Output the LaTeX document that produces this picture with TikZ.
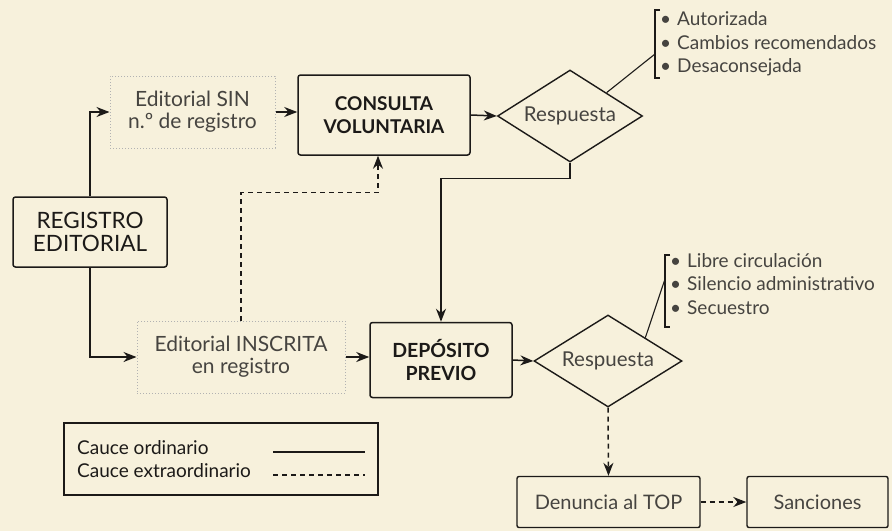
\documentclass[tikz,border=0pt]{standalone}
\usepackage{fontspec}
\setmainfont{Lato}
\usetikzlibrary{shapes.geometric,arrows.meta}
\definecolor{paper}{RGB}{247,241,220}
\definecolor{ink}{RGB}{28,26,24}
\definecolor{soft}{RGB}{70,68,64}
\tikzset{
  mainbox/.style={draw=ink, line width=1.5pt, rounded corners=2.5pt, align=center, text=ink, inner sep=0pt,
    font=\fontsize{22.5}{23.5}\selectfont},
  dotbox/.style={draw=gray!60, dotted, line width=1pt, align=center, text=soft, inner sep=0pt,
    font=\fontsize{21}{22}\selectfont},
  smallbox/.style={draw=ink, line width=1.4pt, rounded corners=2pt, align=center, text=soft, inner sep=0pt,
    font=\fontsize{20}{22}\selectfont},
  decision/.style={diamond, draw=ink, line width=1.4pt, aspect=1.6, inner sep=0pt, text=soft,
    font=\fontsize{20.5}{22}\selectfont},
  conn/.style={line width=1.5pt, draw=ink},
  arr/.style={conn, -{Stealth[length=13pt,width=10pt]}},
  dasharr/.style={arr, dash pattern=on 5pt off 4pt},
  itemlist/.style={anchor=west, align=left, text=soft, inner sep=0pt,
    font=\fontsize{19}{23.5}\selectfont},
  legendtext/.style={anchor=west, text=ink, inner sep=0pt, font=\fontsize{19}{23}\selectfont},
}
\begin{document}
\begin{tikzpicture}[x=1pt,y=-1pt]
\useasboundingbox[fill=paper] (0,0) rectangle (892,531);

% nodes
\node[mainbox, minimum width=154pt, minimum height=70pt] (registro) at (90,232) {REGISTRO\\EDITORIAL};
\node[dotbox, minimum width=165pt, minimum height=72pt] (sin) at (192.5,112) {Editorial SIN\\n.º de registro};
\node[mainbox, font=\bfseries\fontsize{19}{23}\selectfont, minimum width=172pt, minimum height=80pt] (consulta) at (384,115) {CONSULTA\\VOLUNTARIA};
\node[decision, minimum width=145pt, minimum height=92pt] (d1) at (570,116) {Respuesta};
\node[dotbox, minimum width=208pt, minimum height=72pt] (inscrita) at (241,357) {Editorial INSCRITA\\en registro};
\node[mainbox, font=\bfseries\fontsize{19.5}{23}\selectfont, minimum width=142pt, minimum height=75pt] (deposito) at (441,360) {DEPÓSITO\\PREVIO};
\node[decision, minimum width=148pt, minimum height=92pt] (d2) at (608,361) {Respuesta};
\node[smallbox, minimum width=183pt, minimum height=51pt] (denuncia) at (608.5,502) {Denuncia al TOP};
\node[smallbox, minimum width=141pt, minimum height=51pt] (sanciones) at (817.5,502) {Sanciones};

% answer lists
\node[itemlist] (list1) at (660,44) {\textbullet\hspace{6pt}Autorizada\\\textbullet\hspace{6pt}Cambios recomendados\\\textbullet\hspace{6pt}Desaconsejada};
\node[itemlist] (list2) at (670,284) {\textbullet\hspace{6pt}Libre circulación\\\textbullet\hspace{6pt}Silencio administrativo\\\textbullet\hspace{6pt}Secuestro};
\coordinate (b1t) at (655,10);
\coordinate (b1b) at (655,78);
\coordinate (b1m) at (655,54);
\coordinate (b2t) at (665,255);
\coordinate (b2b) at (665,327);
\coordinate (b2m) at (665,279);
\draw[conn, line width=1.1pt] ([xshift=5pt]b1t) -- (b1t) -- (b1b) -- ([xshift=5pt]b1b);
\draw[conn, line width=1.1pt] ([xshift=5pt]b2t) -- (b2t) -- (b2b) -- ([xshift=5pt]b2b);
\draw[conn, line width=1.1pt] (d1.north east) -- (b1m);
\draw[conn, line width=1.1pt] (d2.north east) -- (b2m);

% connectors
\draw[arr] (registro.north) |- (sin.west);
\draw[arr] (registro.south) |- (inscrita.west);
\draw[arr] (sin.east) -- (sin.east -| consulta.west);
\draw[arr] (consulta.east) -- (d1.west);
\draw[arr] (d1.south) -- ++(0,16) -| (deposito.north);
\draw[dasharr] (inscrita.north) -- ++(0,-128) -| ([xshift=-6pt]consulta.south);
\draw[arr] (inscrita.east) -- (inscrita.east -| deposito.west);
\draw[arr] (deposito.east) -- (d2.west);
\draw[dasharr] (d2.south) -- (denuncia.north);
\draw[dasharr] (denuncia.east) -- (sanciones.west);

% legend
\node[draw=ink, line width=1.4pt, minimum width=314pt, minimum height=72pt, inner sep=0pt] (legend) at (221,459) {};
\node[legendtext] (l1) at (77,448) {Cauce ordinario};
\node[legendtext] (l2) at (77,471) {Cauce extraordinario};
\coordinate (s1a) at (273,452);
\coordinate (s1b) at (365,452);
\coordinate (s2a) at (273,475);
\coordinate (s2b) at (365,475);
\draw[conn, line width=1.2pt] (s1a) -- (s1b);
\draw[conn, line width=1.2pt, dash pattern=on 5pt off 4pt] (s2a) -- (s2b);
\end{tikzpicture}
\end{document}
